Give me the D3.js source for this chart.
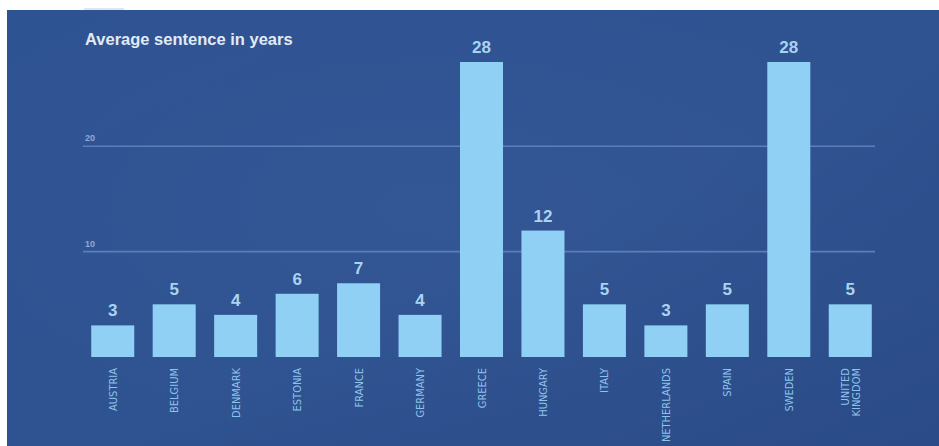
<!DOCTYPE html>
<html>
<head>
<meta charset="utf-8">
<script src="https://cdn.jsdelivr.net/npm/d3@7"></script>
<style>
  html, body { margin: 0; padding: 0; background: #ffffff; }
  svg { display: block; }
</style>
</head>
<body>
<svg id="chart" width="939" height="446"></svg>
<script>
// Average prison sentence by country, in years
const countries = ["AUSTRIA", "BELGIUM", "DENMARK", "ESTONIA", "FRANCE", "GERMANY", "GREECE",
                   "HUNGARY", "ITALY", "NETHERLANDS", "SPAIN", "SWEDEN", "UNITED KINGDOM"];
const sentenceYears = [3, 5, 4, 6, 7, 4, 28, 12, 5, 3, 5, 28, 5];
const gridTicks = [10, 20];
const chartTitle = "Average sentence in years";

const W = 939, H = 446;
const svg = d3.select("#chart");

// Panel background with soft tonal variation
const defs = svg.append("defs");
const lg = defs.append("linearGradient").attr("id", "bgLin")
  .attr("x1", 0).attr("y1", 0).attr("x2", 1).attr("y2", 1);
lg.append("stop").attr("offset", "0%").attr("stop-color", "#2e5393");
lg.append("stop").attr("offset", "55%").attr("stop-color", "#2f5290");
lg.append("stop").attr("offset", "100%").attr("stop-color", "#2a4b87");
const rg = defs.append("radialGradient").attr("id", "bgGlow")
  .attr("cx", 0.45).attr("cy", 0.45).attr("r", 0.6);
rg.append("stop").attr("offset", "0%").attr("stop-color", "#4a6aa8").attr("stop-opacity", 0.15);
rg.append("stop").attr("offset", "100%").attr("stop-color", "#4a6aa8").attr("stop-opacity", 0);

svg.append("rect").attr("x", 7).attr("y", 10).attr("width", W - 7).attr("height", H - 10)
  .attr("fill", "url(#bgLin)");
svg.append("rect").attr("x", 7).attr("y", 10).attr("width", W - 7).attr("height", H - 10)
  .attr("fill", "url(#bgGlow)");
svg.append("rect").attr("x", 84).attr("y", 8).attr("width", 40).attr("height", 2)
  .attr("fill", "#dfe6f0");

// Scales
const x = d3.scaleBand().domain(countries).range([82, 881]).paddingInner(0.3).paddingOuter(0.15);
const y = d3.scaleLinear().domain([0, 28]).range([357, 62]);

// Gridlines with their values
const grid = svg.append("g");
grid.selectAll("line").data(gridTicks).join("line")
  .attr("x1", 83).attr("x2", 875)
  .attr("y1", d => y(d)).attr("y2", d => y(d))
  .attr("stroke", "#6585c0").attr("stroke-width", 1.6).attr("opacity", 0.85);
grid.selectAll("text").data(gridTicks).join("text")
  .attr("x", 85).attr("y", d => y(d) - 5)
  .attr("font-family", "Liberation Sans, Arial, sans-serif")
  .attr("font-size", 9).attr("font-weight", "bold")
  .attr("fill", "#8fa9d6")
  .text(d => d);

// Title
svg.append("text")
  .attr("x", 85).attr("y", 45)
  .attr("font-family", "Liberation Sans, Arial, sans-serif")
  .attr("font-size", 16.5).attr("font-weight", "bold")
  .attr("fill", "#e2eaf6")
  .text(chartTitle);

// Bars
const data = countries.map((c, i) => ({ country: c, value: sentenceYears[i] }));
svg.append("g").selectAll("rect").data(data).join("rect")
  .attr("x", d => x(d.country))
  .attr("y", d => y(d.value))
  .attr("width", x.bandwidth())
  .attr("height", d => y(0) - y(d.value))
  .attr("fill", "#8fd0f4");

// Value labels
svg.append("g").selectAll("text").data(data).join("text")
  .attr("x", d => x(d.country) + x.bandwidth() / 2)
  .attr("y", d => y(d.value) - 9)
  .attr("text-anchor", "middle")
  .attr("font-family", "Liberation Sans, Arial, sans-serif")
  .attr("font-size", 17).attr("font-weight", "bold")
  .attr("fill", "#a9d3f1")
  .text(d => d.value);

// Category labels, rotated to read bottom-to-top
const xAxis = d3.axisBottom(x).tickSize(0).tickPadding(0);
const ax = svg.append("g").attr("transform", `translate(0,${y(0)})`).call(xAxis);
ax.select(".domain").remove();
ax.selectAll(".tick text").remove();
ax.selectAll(".tick").each(function (d) {
  const words = d === "UNITED KINGDOM" ? ["UNITED", "KINGDOM"] : [d];
  const t = d3.select(this).append("text")
    .attr("transform", "rotate(-90)")
    .attr("text-anchor", "end")
    .attr("font-family", "Liberation Sans Narrow, DejaVu Sans Condensed, Arial Narrow, sans-serif")
    .attr("font-size", 11)
    .attr("fill", "#8ec3ec");
  const lineH = 11;
  words.forEach((w, i) => {
    t.append("tspan")
      .attr("x", -11)
      .attr("y", 4 + (i - (words.length - 1) / 2) * lineH)
      .text(w);
  });
});
</script>
</body>
</html>
